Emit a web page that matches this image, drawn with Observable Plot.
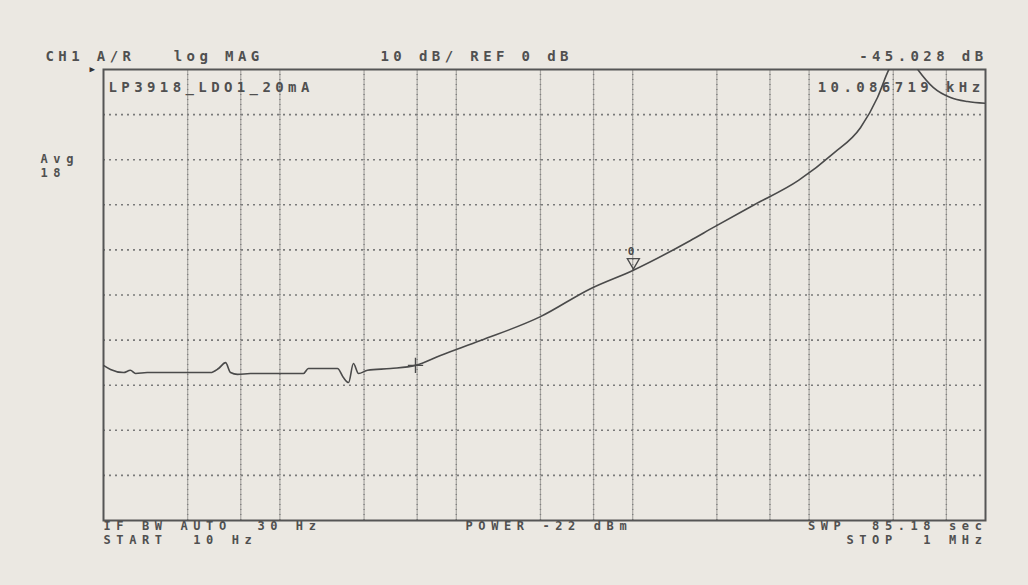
<!DOCTYPE html>
<html>
<head>
<meta charset="utf-8">
<script src="https://cdn.jsdelivr.net/npm/d3@7"></script>
<script src="https://cdn.jsdelivr.net/npm/@observablehq/plot@0.6"></script>
<style>
  html, body { margin: 0; padding: 0; background: #ebe8e2; }
  #chart { width: 1028px; height: 585px; }
</style>
</head>
<body>
<div id="chart"></div>
<script>
// Trace: frequency (Hz) and magnitude (dB)
const freqHz = [10, 10.96, 12.98, 14.2, 15.2, 17.7, 28.4, 40.4, 44.9, 49.2, 52.5, 57.5, 68.1, 114.8, 136, 145, 177, 212, 229, 245, 261, 279, 314, 424, 587, 813, 1371, 3000, 5765, 10087, 21270, 28700, 47750, 87100, 137400, 195500, 244200, 281800, 342800, 417000, 507000, 633300, 790600, 1000000];
const magDb = [-65.6, -66.5, -67.2, -66.7, -67.4, -67.2, -67.2, -67.2, -66.3, -65.0, -67.2, -67.6, -67.4, -67.4, -67.4, -66.3, -66.3, -66.3, -68.3, -69.4, -65.2, -67.4, -66.7, -66.3, -65.6, -63.4, -60.1, -54.8, -48.6, -44.5, -37.9, -35.0, -30.2, -24.6, -18.6, -12.9, -6.2, -0.2, 5.0, -0.2, -4.0, -6.2, -7.1, -7.5];

// Graticule
const gridFreqs = [30, 60, 100, 300, 600, 1000, 3000, 6000, 10000, 30000, 60000, 100000, 300000, 600000];
const gridDb = [-10, -20, -30, -40, -50, -60, -70, -80, -90];

// Markers
const markerFreq = [10086.719];
const markerDb = [-44.5];
const markerLabel = ["0"];
const crossFreq = [587];
const crossDb = [-65.6];

// Annotation texts
const topLeftText = "CH1 A/R   log MAG";
const topMidText = "10 dB/ REF 0 dB";
const topRightText = "-45.028 dB";
const traceTitle = "LP3918_LDO1_20mA";
const markerReadout = "10.086719 kHz";
const avgLines = ["Avg", "18"];
const bottomLeft = ["IF BW AUTO  30 Hz", "START  10 Hz"];
const bottomMid = "POWER -22 dBm";
const bottomRight = ["SWP  85.18 sec", "STOP  1 MHz"];

const trace = freqHz.map((f, i) => ({f, db: magDb[i]}));
const markers = markerFreq.map((f, i) => ({f, db: markerDb[i], label: markerLabel[i]}));
const crosses = crossFreq.map((f, i) => ({f, db: crossDb[i]}));

const txt = "#505050";
const label = (s, anchor, textAnchor, dx, dy, fontSize = 14) =>
  Plot.text([s], {text: d => d, frameAnchor: anchor, textAnchor, dx, dy, fill: txt, fontSize, fontWeight: "bold", lineAnchor: "middle"});

const chart = Plot.plot({
  width: 1028,
  height: 585,
  marginLeft: 103,
  marginRight: 43,
  marginTop: 69,
  marginBottom: 65,
  x: {type: "log", domain: [10, 1e6], axis: null},
  y: {domain: [-100, 0], axis: null},
  style: {background: "transparent", fontFamily: "'DejaVu Sans Mono', monospace", letterSpacing: "4.4px"},
  marks: [
    Plot.ruleX(gridFreqs, {stroke: "#a8a6a2", strokeWidth: 1.2}),
    Plot.ruleX(gridFreqs, {stroke: "#808080", strokeWidth: 1.4, strokeDasharray: "1,4"}),
    Plot.ruleY(gridDb, {stroke: "#7a7a7a", strokeWidth: 1.6, strokeDasharray: "2,4"}),
    Plot.frame({stroke: "#555", strokeWidth: 2}),
    Plot.line(trace, {x: "f", y: "db", stroke: "#4a4a4a", strokeWidth: 1.6, curve: "monotone-x", clip: true}),
    Plot.dot(crosses, {x: "f", y: "db", symbol: "plus", r: 5, stroke: "#4a4a4a", strokeWidth: 1.4}),
    Plot.dot(markers, {x: "f", y: "db", symbol: "triangle", rotate: 180, r: 4.5, stroke: "#4a4a4a", strokeWidth: 1.3, fill: "none", dy: -8}),
    Plot.text(markers, {x: "f", y: "db", text: "label", dy: -19, fill: "#4a4a4a", fontSize: 11, fontWeight: "bold", textAnchor: "middle"}),
    // Top annotations
    label(topLeftText, "top-left", "start", -58, -13),
    label(topMidText, "top-left", "start", 277, -13),
    label(topRightText, "top-right", "end", 2, -13),
    Plot.text(["\u25B6"], {text: d => d, frameAnchor: "top-left", textAnchor: "middle", lineAnchor: "middle", dx: -9, dy: 0, fill: "#333", fontSize: 9}),
    label(traceTitle, "top-left", "start", 5, 18),
    label(markerReadout, "top-right", "end", -1, 18),
    label(avgLines[0], "top-left", "start", -63, 90, 12),
    label(avgLines[1], "top-left", "start", -63, 104, 12),
    // Bottom annotations
    label(bottomLeft[0], "bottom-left", "start", 0, 6, 12),
    label(bottomLeft[1], "bottom-left", "start", 0, 20, 12),
    label(bottomMid, "bottom-left", "start", 362, 6, 12),
    label(bottomRight[0], "bottom-right", "end", 2, 6, 12),
    label(bottomRight[1], "bottom-right", "end", 2, 20, 12)
  ]
});

// wider letter spacing for the smaller stacked status lines to keep their width
chart.querySelectorAll('g[font-size="12"]').forEach(g => g.setAttribute("letter-spacing", "5.6px"));

document.getElementById("chart").appendChild(chart);
</script>
</body>
</html>
